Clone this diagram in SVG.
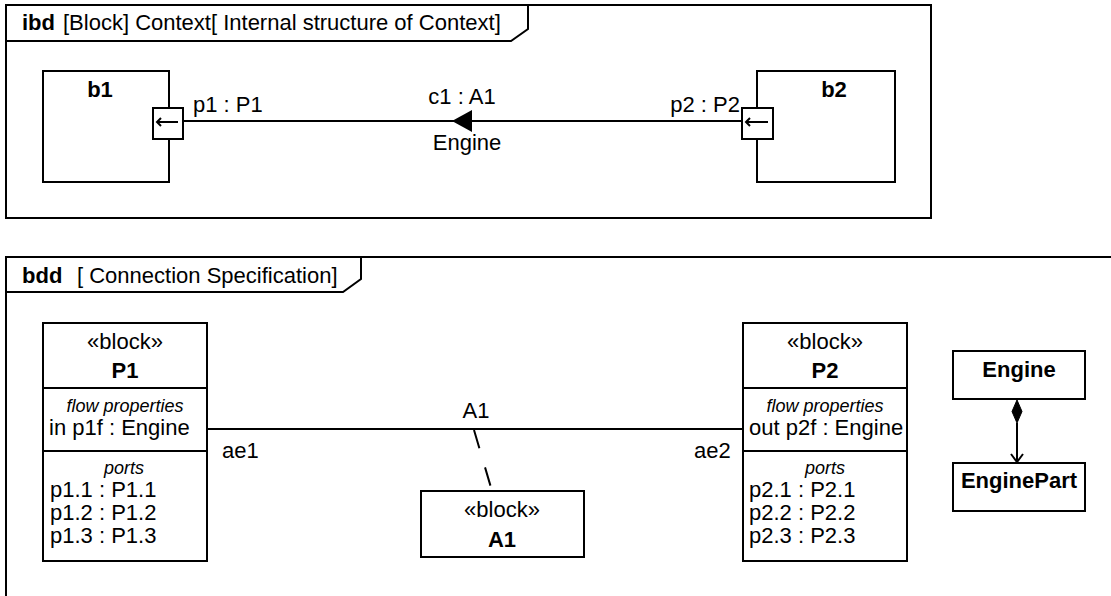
<svg xmlns="http://www.w3.org/2000/svg" width="1111" height="596" viewBox="0 0 1111 596">
<defs>
<style>
text{font-family:"Liberation Sans",Arial,sans-serif;font-size:22px;fill:#000}
.b{font-weight:bold}
.i{font-style:italic;font-size:18px}
.c{text-anchor:middle}
.e{text-anchor:end}
.s{fill:#fff;stroke:#000;stroke-width:2}
.l{fill:none;stroke:#000;stroke-width:2}
</style>
</defs>
<rect width="1111" height="596" fill="#fff"/>
<g id="frame-ibd">
<rect x="6" y="5" width="925" height="213" class="s"/>
<path d="M6 41 H511 L528 29 V5" class="l"/>
<text x="22" y="30" class="b">ibd</text>
<text x="63" y="30">[Block] Context[ Internal structure of Context]</text>
</g>
<g id="frame-bdd">
<path d="M6 600 V257 H1115" class="l"/>
<path d="M6 292 H343 L361 279 V257" class="l"/>
<text x="22" y="283" class="b">bdd</text>
<text x="77" y="283">[ Connection Specification]</text>
</g>
<g id="b1">
<rect x="43" y="71" width="126" height="111" class="s"/>
<text x="100" y="97" class="b c">b1</text>
</g>
<g id="b1-p1">
<rect x="153" y="108" width="30" height="31" class="s"/>
<path d="M157 122 H178 M161 118 L157 122 L161 126" class="l" stroke-width="1.6"/>
<text x="193" y="112">p1 : P1</text>
</g>
<g id="b2">
<rect x="757" y="71" width="138" height="111" class="s"/>
<text x="834" y="97" class="b c">b2</text>
</g>
<g id="b2-p2">
<rect x="742" y="108" width="31" height="31" class="s"/>
<path d="M746 122 H768 M750 118 L746 122 L750 126" class="l" stroke-width="1.6"/>
<text x="740" y="112" class="e">p2 : P2</text>
</g>
<g id="P1">
<rect x="43" y="323" width="164" height="238" class="s"/>
<path d="M43 388 H207 M43 451 H207" class="l"/>
<text x="125" y="349" class="c">«block»</text>
<text x="125" y="378" class="b c">P1</text>
<text x="125" y="412" class="i c">flow properties</text>
<text x="49" y="435">in p1f : Engine</text>
<text x="124" y="474" class="i c">ports</text>
<text x="50" y="497">p1.1 : P1.1</text>
<text x="50" y="520">p1.2 : P1.2</text>
<text x="50" y="543">p1.3 : P1.3</text>
</g>
<g id="P2">
<rect x="743" y="323" width="164" height="238" class="s"/>
<path d="M743 388 H907 M743 451 H907" class="l"/>
<text x="825" y="349" class="c">«block»</text>
<text x="825" y="378" class="b c">P2</text>
<text x="825" y="412" class="i c">flow properties</text>
<text x="749" y="435">out p2f : Engine</text>
<text x="825" y="474" class="i c">ports</text>
<text x="749" y="497">p2.1 : P2.1</text>
<text x="749" y="520">p2.2 : P2.2</text>
<text x="749" y="543">p2.3 : P2.3</text>
</g>
<g id="A1">
<rect x="421" y="491" width="163" height="66" class="s"/>
<text x="502" y="517" class="c">«block»</text>
<text x="502" y="547" class="b c">A1</text>
</g>
<g id="Engine">
<rect x="953" y="351" width="132" height="48" class="s"/>
<text x="1019" y="377" class="b c">Engine</text>
</g>
<g id="EnginePart">
<rect x="953" y="463" width="132" height="48" class="s"/>
<text x="1019" y="488" class="b c">EnginePart</text>
</g>
<g id="connectors">
<path d="M183 121 H742" class="l"/>
<path d="M452 121 L472 110 L472 132 Z" fill="#000"/>
<text x="462" y="104" class="c">c1 : A1</text>
<text x="467" y="150" class="c">Engine</text>
<path d="M207 429 H743" class="l"/>
<text x="476" y="418" class="c">A1</text>
<text x="222" y="458">ae1</text>
<text x="694" y="458">ae2</text>
<path d="M474 430 L492 491" class="l" stroke-dasharray="19 20"/>
<path d="M1017 400 L1022 411.5 L1017 423 L1012 411.5 Z" fill="#000" stroke="#000" stroke-width="1"/>
<path d="M1017 423 V462 M1011 454 L1017 462 L1023 454" class="l"/>
</g>
</svg>
